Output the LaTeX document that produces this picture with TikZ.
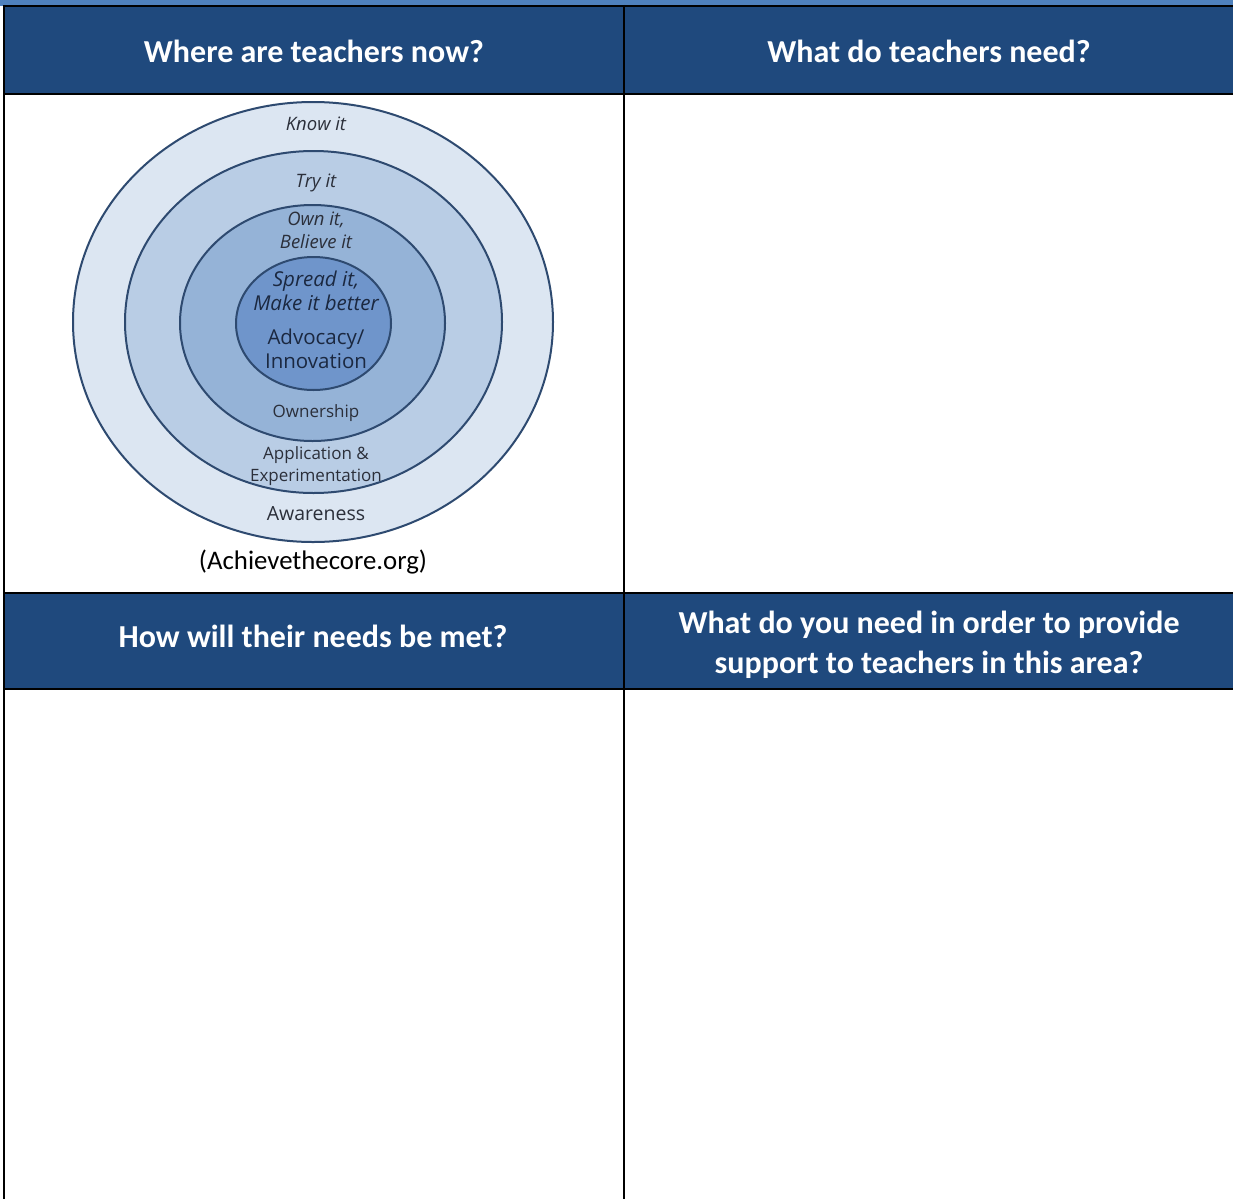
\documentclass[tikz,border=0pt]{standalone}
\usepackage{fontspec}
\setmainfont{Carlito}
\newfontfamily\dfont{Open Sans}
\usetikzlibrary{shapes.geometric}
\definecolor{hdr}{HTML}{1F497D}
\definecolor{strip}{HTML}{4F81BD}
\definecolor{ringA}{HTML}{DCE6F2}
\definecolor{ringB}{HTML}{B9CDE5}
\definecolor{ringC}{HTML}{95B3D7}
\definecolor{ringD}{HTML}{6F95CB}
\definecolor{ringline}{HTML}{2E4A70}
\definecolor{lbl}{HTML}{2B2F3A}
\definecolor{lbldark}{HTML}{1B2840}
\begin{document}
\begin{tikzpicture}[x=1pt,y=-1pt,
  hdrtext/.style={text=white, font=\fontsize{32}{40}\selectfont\bfseries, align=center, inner sep=0pt},
  ring/.style={ellipse, draw=ringline, line width=2pt, inner sep=0pt},
  lab/.style={text=lbl, align=center, inner sep=0pt},
  labit/.style={lab, font=\dfont\itshape\fontsize{18.5}{23}\selectfont},
  labrm/.style={lab, font=\dfont\fontsize{17}{22}\selectfont},
  gridline/.style={line width=2pt, black}]
\useasboundingbox (0,0) rectangle (1233,1199);
\fill[white] (0,0) rectangle (1233,1199);
\fill[strip] (0,0) rectangle (1233,6);
\fill[hdr] (4,6) rectangle (1233,93.5);
\fill[hdr] (4,593) rectangle (1233,688.5);
% grid
\draw[gridline] (3,6) -- (1233,6);
\draw[gridline] (3,93.5) -- (1233,93.5);
\draw[gridline] (3,593) -- (1233,593);
\draw[gridline] (3,688.5) -- (1233,688.5);
\draw[gridline] (4,5) -- (4,1199);
\draw[gridline] (624,5) -- (624,1199);
% headers
\node[hdrtext] (h1) at (314,51) {Where are teachers now?};
\node[hdrtext] (h2) at (929,51) {What do teachers need?};
\node[hdrtext] (h3) at (313,636) {How will their needs be met?};
\node[hdrtext] (h4) at (929,645) {What do you need in order to provide\\support to teachers in this area?};
% rings
\node[ring, fill=ringA, minimum width=480pt, minimum height=440pt] (r1) at (313,322) {};
\node[ring, fill=ringB, minimum width=377pt, minimum height=342pt] (r2) at (313.5,322) {};
\node[ring, fill=ringC, minimum width=265pt, minimum height=236pt] (r3) at (312.5,323) {};
\node[ring, fill=ringD, minimum width=155pt, minimum height=133pt] (r4) at (313.5,323.5) {};
% labels
\node[labit] (know) at (316,124) {Know it};
\node[labit] (try) at (316,183) {Try it};
\node[labit] (own) at (316,230.5) {Own it,\\Believe it};
\node[lab, text=lbldark, font=\dfont\itshape\fontsize{20.5}{24}\selectfont] (spread) at (316,290.5) {Spread it,\\Make it better};
\node[lab, text=lbldark, font=\dfont\fontsize{20.5}{24}\selectfont] (adv) at (316,348.5) {Advocacy/\\Innovation};
\node[labrm] (ownership) at (316,413) {Ownership};
\node[labrm] (app) at (316,466.5) {Application \&\\Experimentation};
\node[lab, font=\dfont\fontsize{19.5}{22}\selectfont] (aware) at (316,513.5) {Awareness};
\node[lab, text=black, font=\fontsize{26.8}{30}\selectfont] (src) at (313,562) {(Achievethecore.org)};
\end{tikzpicture}
\end{document}
